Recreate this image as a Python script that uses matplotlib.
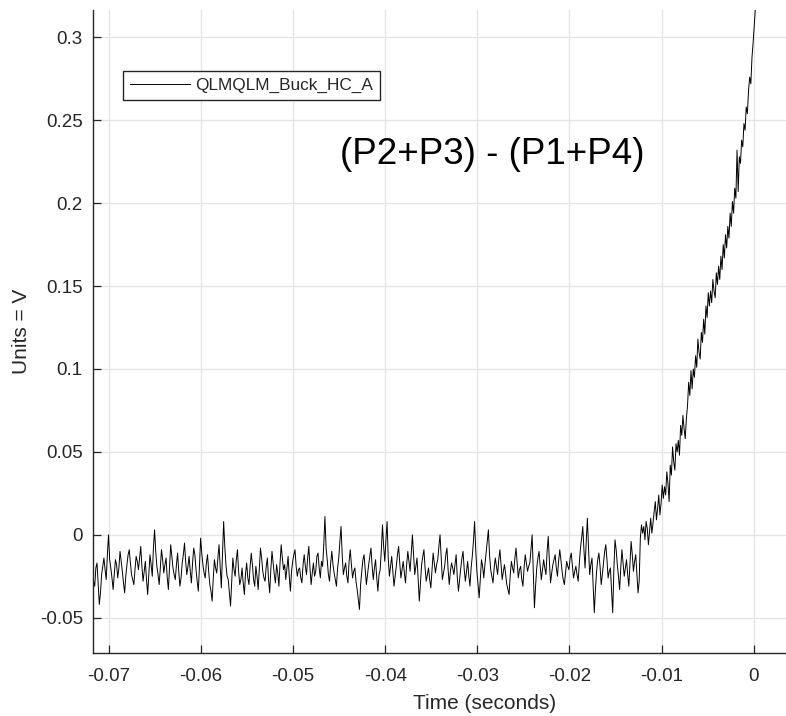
import numpy as np
import matplotlib
matplotlib.use("Agg")
from matplotlib import pyplot as plt
from matplotlib.ticker import FuncFormatter

t_start = -0.0718
dt = 0.000125

# flat noisy part before the turn-on
noise_mv = [
    -22, -28, -31, -20, -17, -30, -42, -35, -24, -19, -14, -21, -27, -12, 0, -15, -20, -26, -33, -24,
    -15, -18, -26, -20, -10, -16, -22, -29, -35, -25, -18, -12, -9, -17, -24, -27, -30, -21, -13, -16,
    -21, -14, -7, -19, -28, -22, -16, -27, -36, -24, -12, -18, -25, -8, 3, -10, -19, -24, -30, -20,
    -9, -15, -23, -18, -14, -26, -33, -19, -6, -13, -20, -24, -27, -18, -11, -22, -31, -26, -17, -12,
    -5, -16, -24, -19, -13, -22, -29, -17, -8, -12, -21, -28, -34, -19, -2, -11, -18, -23, -26, -17,
    -12, -22, -30, -34, -40, -26, -15, -20, -23, -14, -6, -19, -32, -12, 8, -7, -18, -25, -27, -35,
    -43, -28, -14, -21, -25, -15, -9, -22, -30, -27, -20, -29, -36, -24, -17, -26, -30, -19, -11, -18,
    -27, -31, -19, -25, -33, -20, -8, -14, -22, -26, -28, -19, -14, -27, -35, -21, -10, -17, -24, -29,
    -18, -23, -31, -17, -6, -14, -21, -18, -27, -20, -13, -25, -34, -22, -16, -12, -9, -19, -25, -21,
    -20, -26, -29, -18, -12, -19, -24, -14, -7, -20, -30, -23, -17, -25, -22, -13, -11, -20, -26, -16,
    -19, -6, 11, -8, -15, -24, -28, -17, -10, -18, -23, -27, -31, -20, -14, -4, 5, -12, -24, -20,
    -17, -25, -29, -16, -9, -18, -26, -22, -20, -28, -33, -39, -45, -30, -22, -15, -12, -21, -30, -24,
    -18, -13, -8, -19, -27, -20, -15, -26, -34, -24, -21, -9, 6, -7, -16, -3, 8, -14, -25, -19,
    -13, -22, -31, -25, -19, -12, -7, -17, -26, -21, -16, -23, -29, -18, -10, -16, -22, -11, 0, -12,
    -24, -19, -14, -27, -40, -29, -18, -13, -9, -20, -28, -24, -20, -27, -32, -21, -11, -17, -23, -18,
    -15, -7, 0, -14, -27, -23, -19, -12, -8, -21, -30, -22, -17, -20, -24, -18, -12, -26, -34, -27,
    -20, -14, -10, -21, -28, -22, -16, -25, -31, -20, -13, -4, 8, -9, -22, -30, -38, -26, -15, -19,
    -26, -18, -11, -4, 3, -12, -21, -25, -29, -20, -14, -19, -24, -15, -9, -18, -27, -22, -18, -24,
    -30, -33, -36, -24, -16, -20, -23, -14, -8, -17, -26, -21, -19, -27, -31, -20, -12, -17, -22, -19,
    -17, -9, 0, -22, -44, -31, -20, -14, -10, -19, -27, -21, -15, -20, -24, -10, -1, -16, -29, -23,
    -18, -15, -12, -20, -25, -16, -9, -15, -22, -27, -30, -23, -16, -19, -21, -14, -11, -19, -26, -22,
    -19, -24, -28, -17, -8, -2, 5, -9, -20, -4, 10, -8, -24, -18, -14, -30, -47, -33, -22, -15,
    -11, -19, -30, -24, -17, -10, -6, -15, -26, -22, -20, -34, -47, -21, -3, -9, -18, -25, -33, -20,
    -9, -17, -25, -20, -15, -24, -31, -18, -4, -12, -22, -16, -12, -24, -35, -28,
]

# rising part up to t = 0
rise_mv = [
    -2, 6, 1, 5, -3, 8, 4, -6, 2, 10,
    1, 7, 14, 20, 9, 16, 24, 12, 19, 30,
    22, 29, 24, 38, 31, 20, 42, 36, 53, 44,
    39, 55, 50, 57, 48, 66, 60, 72, 64, 58,
    70, 78, 92, 84, 99, 88, 100, 95, 108, 101,
    118, 110, 106, 122, 116, 130, 121, 138, 131, 146,
    138, 147, 140, 154, 147, 143, 158, 151, 162, 154,
    168, 160, 175, 167, 181, 173, 186, 179, 194, 186,
    201, 194, 209, 203, 232, 207, 228, 224, 238, 234,
    248, 244, 258, 254, 268, 276, 272, 288, 297, 308,
    318,
]

series_name = "QLMQLM_Buck_HC_A"
x_ticks = [-0.07, -0.06, -0.05, -0.04, -0.03, -0.02, -0.01, 0]
y_ticks = [-0.05, 0, 0.05, 0.1, 0.15, 0.2, 0.25, 0.3]

volts = np.array(noise_mv + rise_mv) / 1000.0
time = t_start + dt * np.arange(len(volts))

plt.rcParams['font.family'] = ['Liberation Sans', 'DejaVu Sans']
plt.rcParams['axes.unicode_minus'] = False

W, H = 786, 716
fig = plt.figure(figsize=(W / 100, H / 100), dpi=100)
# axes runs past the right edge, the original screenshot was cropped
ax = fig.add_axes([92.5 / W, 1 - 652.7 / H, (877 - 92.5) / W, (652.7 - 10) / H])

ax.plot(time, volts, color='black', lw=0.7, label=series_name)

ax.set_xlim(-0.07179, 0.0134)
ax.set_ylim(-0.0711, 0.3165)
ax.set_xticks(x_ticks)
ax.set_yticks(y_ticks)
fmt = FuncFormatter(lambda v, p: '%g' % round(v, 4))
ax.xaxis.set_major_formatter(fmt)
ax.yaxis.set_major_formatter(fmt)

dark = '#262626'
ax.grid(True, color='#e4e4e4', lw=0.9)
ax.set_axisbelow(True)
for side in ['top', 'right']:
    ax.spines[side].set_visible(False)
for side in ['left', 'bottom']:
    ax.spines[side].set_color(dark)
    ax.spines[side].set_linewidth(1.0)
ax.tick_params(axis='both', direction='in', length=6, width=0.9,
               colors=dark, labelsize=13.5)
ax.tick_params(axis='x', pad=11)
ax.tick_params(axis='y', pad=7)

ax.set_xlabel('Time (seconds)', fontsize=15, color=dark, labelpad=6.5)
ax.set_ylabel('Units = V', fontsize=15, color=dark, labelpad=6)

leg = ax.legend(loc='upper left', bbox_to_anchor=(122.7 / W, 1 - 70.7 / H),
                bbox_transform=fig.transFigure, borderaxespad=0,
                fancybox=False, framealpha=1, edgecolor=dark,
                fontsize=12.4, handlelength=3.5, handletextpad=0.3,
                borderpad=0.42)
leg.get_frame().set_linewidth(1.0)
for txt in leg.get_texts():
    txt.set_color(dark)

fig.text(340 / W, 1 - 155 / H, '(P2+P3) - (P1+P4)', fontsize=26.5,
         ha='left', va='center', color='black')

fig.savefig('out.png', dpi=100)
